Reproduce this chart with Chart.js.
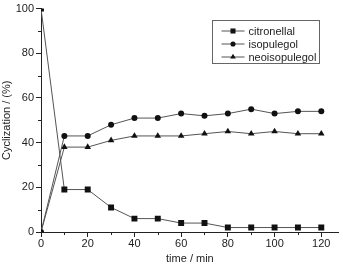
<!DOCTYPE html>
<html>
<head>
<meta charset="utf-8">
<script src="https://cdn.jsdelivr.net/npm/chart.js@4"></script>
<style>
  html, body { margin: 0; padding: 0; background: #fff; }
  #wrap { width: 343px; height: 266px; }
</style>
</head>
<body>
<div id="wrap"><canvas id="c"></canvas></div>
<script>
// time points (min) and cyclization values (%)
const times = [0, 10, 20, 30, 40, 50, 60, 70, 80, 90, 100, 110, 120];
const citronellal = [100, 19, 19, 11, 6, 6, 4, 4, 2, 2, 2, 2, 2];
const isopulegol = [0, 43, 43, 48, 51, 51, 53, 52, 53, 55, 53, 54, 54];
const neoisopulegol = [0, 38, 38, 41, 43, 43, 43, 44, 45, 44, 45, 44, 44];
const seriesNames = ["citronellal", "isopulegol", "neoisopulegol"];
const markers = ["rect", "circle", "triangle"];
const markerSizes = [4.2, 3, 3.8];

const ink = "#222";
const lineCol = "#555";
const font = { family: "'Liberation Sans', Arial, sans-serif", size: 11 };

function toPoints(vals) {
  return times.map((t, i) => ({ x: t, y: vals[i] }));
}

const datasets = [citronellal, isopulegol, neoisopulegol].map((vals, i) => ({
  label: seriesNames[i],
  data: toPoints(vals),
  showLine: true,
  borderColor: lineCol,
  borderWidth: 1,
  pointStyle: markers[i],
  pointRadius: markerSizes[i],
  pointBackgroundColor: "#111",
  pointBorderColor: "#111",
  pointBorderWidth: 0
}));

// minor ticks at the half-steps, drawn through the scales
const minorTicks = {
  id: "minorTicks",
  afterDraw(chart) {
    const { ctx, scales: { x, y } } = chart;
    ctx.save();
    ctx.strokeStyle = ink;
    ctx.lineWidth = 1;
    ctx.beginPath();
    for (let v = 10; v <= 120; v += 20) {
      const px = Math.round(x.getPixelForValue(v)) + 0.5;
      ctx.moveTo(px, y.bottom);
      ctx.lineTo(px, y.bottom + 3);
    }
    for (let v = 10; v <= 90; v += 20) {
      const py = Math.round(y.getPixelForValue(v)) + 0.5;
      ctx.moveTo(x.left, py);
      ctx.lineTo(x.left - 3, py);
    }
    ctx.stroke();
    ctx.restore();
  }
};

// boxed legend with line + marker samples
const boxLegend = {
  id: "boxLegend",
  afterDraw(chart) {
    const ctx = chart.ctx;
    const bx = 212.5, by = 20.5, bw = 107, bh = 43;
    ctx.save();
    ctx.strokeStyle = "#666";
    ctx.lineWidth = 1;
    ctx.strokeRect(bx, by, bw, bh);
    ctx.font = "11px " + font.family;
    ctx.textBaseline = "middle";
    chart.data.datasets.forEach((ds, i) => {
      const cy = by + 10.5 + i * 13;
      ctx.strokeStyle = lineCol;
      ctx.beginPath();
      ctx.moveTo(bx + 9, cy);
      ctx.lineTo(bx + 32, cy);
      ctx.stroke();
      ctx.fillStyle = "#111";
      Chart.helpers.drawPoint(ctx, {
        pointStyle: ds.pointStyle,
        radius: ds.pointRadius * 0.85,
        borderWidth: 0
      }, bx + 20.5, cy);
      ctx.fillStyle = ink;
      ctx.fillText(ds.label, bx + 36, cy + 1);
    });
    ctx.restore();
  }
};

new Chart(document.getElementById("c"), {
  type: "scatter",
  data: { datasets },
  options: {
    responsive: true,
    maintainAspectRatio: false,
    animation: false,
    layout: { padding: { top: 7, right: 0, left: 0, bottom: 0 } },
    plugins: { legend: { display: false }, tooltip: { enabled: false } },
    scales: {
      x: {
        type: "linear",
        min: 0,
        max: 127.5,
        afterFit(s) { s.height = 34; },
        ticks: { stepSize: 20, includeBounds: false, color: ink, font, padding: 0 },
        grid: { drawOnChartArea: false, drawTicks: true, tickLength: 5, color: ink },
        border: { color: ink, width: 1 },
        title: { display: true, text: "time / min", color: ink, font, padding: { top: 0, bottom: 0 } }
      },
      y: {
        min: 0,
        max: 100,
        afterFit(s) { s.width = 41; },
        ticks: { stepSize: 20, color: ink, font, padding: 2 },
        grid: { drawOnChartArea: false, drawTicks: true, tickLength: 5, color: ink },
        border: { color: ink, width: 1 },
        title: { display: true, text: "Cyclization / (%)", color: ink, font, padding: { top: 0, bottom: 0 } }
      }
    }
  },
  plugins: [minorTicks, boxLegend]
});
</script>
</body>
</html>
